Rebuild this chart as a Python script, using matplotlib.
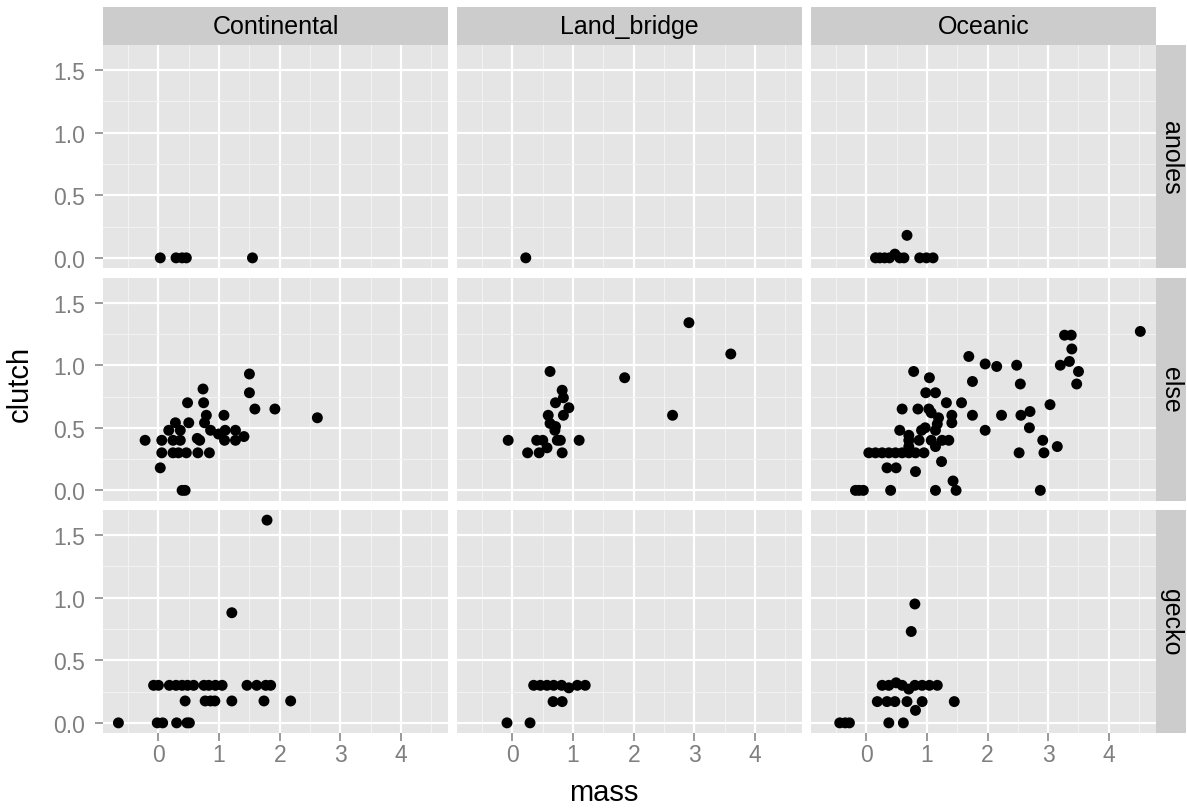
import matplotlib
matplotlib.use("Agg")
import matplotlib.pyplot as plt
from matplotlib.patches import Rectangle
from matplotlib.ticker import FixedLocator

plt.rcParams['font.family'] = ['Liberation Sans', 'DejaVu Sans']

# ---------------- data ----------------
groups = ["Continental", "Land_bridge", "Oceanic"]
classes = ["anoles", "else", "gecko"]
x_ticks = [0, 1, 2, 3, 4]
y_ticks = [0.0, 0.5, 1.0, 1.5]

cont_anoles_mass = [0.03, 0.29, 0.39, 0.46, 1.55]
cont_anoles_clutch = [0, 0, 0, 0, 0]

land_anoles_mass = [0.22]
land_anoles_clutch = [0]

ocea_anoles_mass = [0.15, 0.22, 0.30, 0.38, 0.47, 0.55, 0.62, 0.67, 0.88, 0.99, 1.10]
ocea_anoles_clutch = [0, 0, 0, 0, 0.03, 0, 0, 0.18, 0, 0, 0]

cont_else_mass = [0.735, 1.50, 1.50, 0.48, 0.745, 1.59, 1.92, 2.62, 0.79, 1.08,
                  0.28, 0.50, 0.76, 0.17, 0.36, 0.86, 1.10, 1.27, 0.99, -0.22,
                  0.055, 0.24, 0.36, 0.64, 0.68, 1.09, 1.27, 1.41, 0.055, 0.24,
                  0.33, 0.46, 0.65, 0.84, 0.03, 0.39, 0.44]
cont_else_clutch = [0.81, 0.93, 0.78, 0.70, 0.70, 0.65, 0.65, 0.58, 0.60, 0.60,
                    0.54, 0.54, 0.54, 0.48, 0.48, 0.48, 0.48, 0.48, 0.45, 0.40,
                    0.40, 0.40, 0.40, 0.415, 0.40, 0.40, 0.40, 0.43, 0.30, 0.30,
                    0.30, 0.30, 0.30, 0.30, 0.18, 0.0, 0.0]

land_else_mass = [2.91, 3.60, 0.62, 1.85, 0.82, 0.84, 0.71, 0.93, 0.84, 2.64,
                  0.59, 0.62, 0.71, 0.70, -0.07, 0.40, 0.50, 0.74, 0.79, 1.10,
                  0.57, 0.25, 0.44, 0.82]
land_else_clutch = [1.34, 1.09, 0.95, 0.90, 0.80, 0.74, 0.70, 0.66, 0.60, 0.60,
                    0.60, 0.535, 0.51, 0.48, 0.40, 0.40, 0.40, 0.40, 0.40, 0.40,
                    0.34, 0.30, 0.30, 0.30]

ocea_else_mass = [4.52, 3.27, 3.38, 3.39, 1.69, 1.96, 2.15, 2.48, 3.20, 3.35,
                  3.50, 0.78, 1.04, 1.75, 2.54, 3.47, 0.98, 1.14, 1.32, 1.57,
                  3.03, 0.59, 0.85, 1.03, 1.07, 1.19, 1.41, 1.41, 1.75, 2.23,
                  2.55, 2.70, 1.17, 0.97, 1.14, 0.91, 1.96, 2.69, 0.55, 0.70,
                  0.70, 0.87, 1.07, 1.25, 1.36, 1.14, 2.91, 3.15, 2.52, 2.93,
                  0.04, 0.15, 0.26, 0.37, 0.48, 0.59, 0.70, 0.81, 0.95, 0.70,
                  0.34, 0.49, 0.81, 1.24, 1.43, -0.18, -0.12, -0.05, 0.40, 1.14,
                  1.48, 2.87]
ocea_else_clutch = [1.27, 1.24, 1.24, 1.13, 1.07, 1.01, 0.99, 1.00, 1.00, 1.03,
                    0.95, 0.95, 0.90, 0.87, 0.85, 0.85, 0.78, 0.78, 0.70, 0.70,
                    0.685, 0.65, 0.65, 0.65, 0.62, 0.58, 0.60, 0.54, 0.60, 0.60,
                    0.60, 0.63, 0.53, 0.50, 0.48, 0.48, 0.48, 0.50, 0.48, 0.44,
                    0.40, 0.40, 0.40, 0.40, 0.40, 0.35, 0.40, 0.35, 0.30, 0.30,
                    0.30, 0.30, 0.30, 0.30, 0.30, 0.30, 0.30, 0.30, 0.30, 0.35,
                    0.18, 0.18, 0.15, 0.23, 0.075, 0.0, 0.0, 0.0, 0.0, 0.0,
                    0.0, 0.0]

cont_gecko_mass = [1.79, 1.21,
                   -0.08, 0.0, 0.18, 0.29, 0.39, 0.48, 0.58, 0.75, 0.83, 0.94, 1.05,
                   1.46, 1.62, 1.77, 1.85,
                   0.44, 0.77, 0.86, 0.93, 1.21, 1.74, 2.18,
                   -0.66, -0.02, 0.07, 0.30, 0.47, 0.51]
cont_gecko_clutch = [1.62, 0.88,
                     0.30, 0.30, 0.30, 0.30, 0.30, 0.30, 0.30, 0.30, 0.30, 0.30, 0.30,
                     0.30, 0.30, 0.30, 0.30,
                     0.175, 0.175, 0.175, 0.175, 0.175, 0.175, 0.175,
                     0.0, 0.0, 0.0, 0.0, 0.0, 0.0]

land_gecko_mass = [0.35, 0.46, 0.57, 0.68, 0.81, 0.93, 1.07, 1.20, 0.67, 0.82, -0.09, 0.29]
land_gecko_clutch = [0.30, 0.30, 0.30, 0.30, 0.30, 0.28, 0.30, 0.30, 0.17, 0.17, 0.0, 0.0]

ocea_gecko_mass = [0.80, 0.74,
                   0.26, 0.37, 0.49, 0.59, 0.70, 0.80, 0.92, 1.04, 1.17,
                   0.18, 0.34, 0.47, 0.67, 0.92, 1.45, 0.81,
                   -0.44, -0.35, -0.28, 0.37, 0.61]
ocea_gecko_clutch = [0.95, 0.73,
                     0.30, 0.30, 0.32, 0.30, 0.27, 0.30, 0.30, 0.30, 0.30,
                     0.17, 0.17, 0.17, 0.17, 0.17, 0.17, 0.10,
                     0.0, 0.0, 0.0, 0.0, 0.0]

panel_data = {
    ("anoles", "Continental"): (cont_anoles_mass, cont_anoles_clutch),
    ("anoles", "Land_bridge"): (land_anoles_mass, land_anoles_clutch),
    ("anoles", "Oceanic"): (ocea_anoles_mass, ocea_anoles_clutch),
    ("else", "Continental"): (cont_else_mass, cont_else_clutch),
    ("else", "Land_bridge"): (land_else_mass, land_else_clutch),
    ("else", "Oceanic"): (ocea_else_mass, ocea_else_clutch),
    ("gecko", "Continental"): (cont_gecko_mass, cont_gecko_clutch),
    ("gecko", "Land_bridge"): (land_gecko_mass, land_gecko_clutch),
    ("gecko", "Oceanic"): (ocea_gecko_mass, ocea_gecko_clutch),
}

# ---------------- layout ----------------
W, H = 1187, 812
fig = plt.figure(figsize=(W / 100, H / 100), dpi=100)
fig.patch.set_facecolor("white")

col_edges = [(102.7, 448.3), (456.7, 802.3), (810.7, 1156.0)]
row_edges = [(46.0, 269.0), (278.5, 501.5), (511.0, 734.0)]
strip_top = (8.0, 46.0)
strip_right = (1156.0, 1186.0)

all_mass = [m for k in panel_data for m in panel_data[k][0]]
all_clutch = [c for k in panel_data for c in panel_data[k][1]]
xr = max(all_mass) - min(all_mass)
yr = max(all_clutch) - min(all_clutch)
xlim = (min(all_mass) - 0.05 * xr, max(all_mass) + 0.05 * xr)
ylim = (min(all_clutch) - 0.05 * yr, max(all_clutch) + 0.05 * yr)

bg = "#E5E5E5"
strip_bg = "#CCCCCC"
grey50 = "#7F7F7F"

def fig_rect(x0, x1, y0, y1):
    return [x0 / W, 1 - y1 / H, (x1 - x0) / W, (y1 - y0) / H]

for ri, cls in enumerate(classes):
    for ci, grp in enumerate(groups):
        x0, x1 = col_edges[ci]
        y0, y1 = row_edges[ri]
        ax = fig.add_axes(fig_rect(x0, x1, y0, y1))
        ax.set_facecolor(bg)
        for s in ax.spines.values():
            s.set_visible(False)
        ax.set_xlim(*xlim)
        ax.set_ylim(*ylim)
        ax.xaxis.set_major_locator(FixedLocator(x_ticks))
        ax.yaxis.set_major_locator(FixedLocator(y_ticks))
        ax.xaxis.set_minor_locator(FixedLocator([-0.5, 0.5, 1.5, 2.5, 3.5, 4.5]))
        ax.yaxis.set_minor_locator(FixedLocator([0.25, 0.75, 1.25]))
        ax.grid(which="major", color="white", linewidth=1.6)
        ax.grid(which="minor", color="#F2F2F2", linewidth=0.8)
        ax.set_axisbelow(True)
        ax.tick_params(which="minor", length=0)
        ax.tick_params(which="major", length=5.5, width=1.1, color=grey50,
                       labelcolor=grey50, labelsize=16.5)
        ax.tick_params(axis="y", pad=7)
        ax.tick_params(axis="x", pad=2)
        if ci == 0:
            ax.set_yticklabels(["%.1f" % v for v in y_ticks])
        else:
            ax.tick_params(axis="y", length=0, labelleft=False)
        if ri == len(classes) - 1:
            ax.set_xticklabels([str(v) for v in x_ticks])
        else:
            ax.tick_params(axis="x", length=0, labelbottom=False)
        m, c = panel_data[(cls, grp)]
        ax.scatter(m, c, s=62, color="black", edgecolors="none", zorder=3)

# top strips
for ci, grp in enumerate(groups):
    x0, x1 = col_edges[ci]
    y0, y1 = strip_top
    fig.patches.append(Rectangle((x0 / W, 1 - y1 / H), (x1 - x0) / W, (y1 - y0) / H,
                                 transform=fig.transFigure, facecolor=strip_bg,
                                 edgecolor="none", zorder=0))
    fig.text((x0 + x1) / 2 / W, 1 - (y0 + y1) / 2 / H, grp, ha="center", va="center",
             fontsize=18, color="black")

# right strips
for ri, cls in enumerate(classes):
    x0, x1 = strip_right
    y0, y1 = row_edges[ri]
    fig.patches.append(Rectangle((x0 / W, 1 - y1 / H), (x1 - x0) / W, (y1 - y0) / H,
                                 transform=fig.transFigure, facecolor=strip_bg,
                                 edgecolor="none", zorder=0))
    fig.text((x0 + x1) / 2 / W, 1 - (y0 + y1) / 2 / H, cls, ha="center", va="center",
             rotation=-90, fontsize=18, color="black")

# axis titles
fig.text(604 / W, 1 - 793 / H, "mass",
         ha="center", va="center", fontsize=21, color="black")
fig.text(20 / W, 1 - 384 / H, "clutch",
         ha="center", va="center", rotation=90, fontsize=21, color="black")

fig.savefig("out.png", dpi=100)
